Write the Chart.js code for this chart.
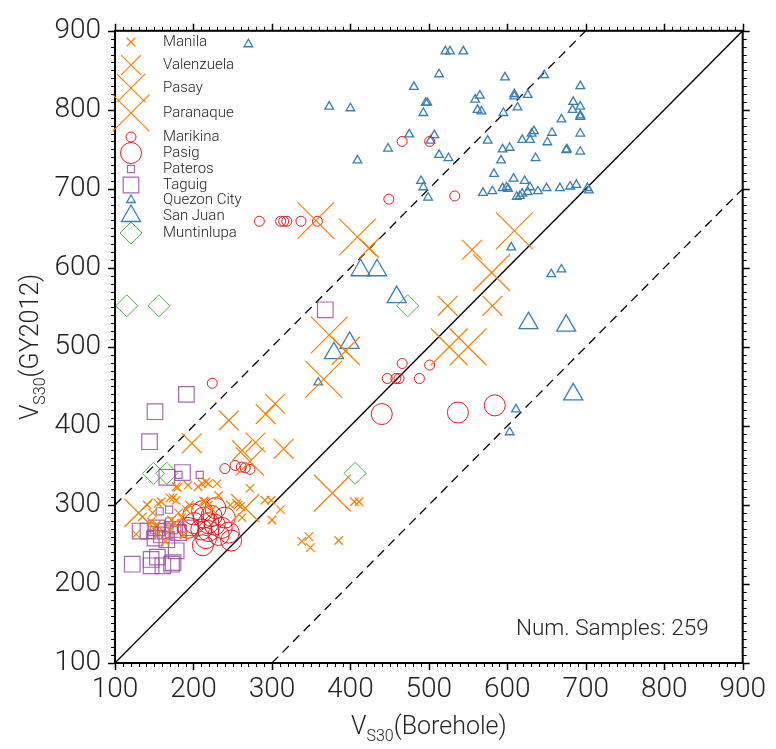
<!DOCTYPE html>
<html>
<head>
<meta charset="utf-8">
<script src="https://cdn.jsdelivr.net/npm/chart.js@4.4.1/dist/chart.umd.min.js"></script>
<style>
  html, body { margin: 0; padding: 0; background: #fff; }
  #wrap { width: 776px; height: 749px; }
</style>
</head>
<body>
<div id="wrap"><canvas id="c" width="776" height="749"></canvas></div>
<script>
// ---- data (V_S30 borehole, V_S30 GY2012) ----
const manila = [
  [178,323],[193,325],[206,323],[211,327],[216,329],[219,327],[230,327],[272,321],[291,306],[299,306],
  [255,302],[311,294],[300,281],[338,254],[347,260],[349,246],[385,255],[141,300],[155,302],[170,309],
  [178,306],[191,294],[213,305],[219,300],[224,294],[247,300],[260,298],[155,265],[164,254],[127,263],
  [185,284],[176,277],[180,322],[159,304],[174,309],[215,304],[257,300],[146,279],[153,275],[172,281],
  [181,290],[405,304],[411,304],[135,285],[148,290],[195,300],[232,312],[262,284],[170,268],[188,262]
];
const valenzuela = [[245,407],[292,415],[304,428],[198,378],[279,379],[315,371],[262,369],[555,623],[524,552],[581,552],[424,625]];
const pasay = [[266,296],[394,495],[272,355],[130,290]];
const paranaque = [[356,660],[409,639],[609,647],[580,594],[526,500],[550,500],[373,515],[366,459],[377,315]];
const marikina = [
  [284,659],[311,659],[315,659],[319,659],[337,659],[358,659],[466,760],[501,760],[449,687],[533,691],
  [224,454],[466,479],[501,477],[447,460],[458,460],[462,460],[488,460],[240,346],[253,350],[261,348],
  [266,347],[272,345]
];
const pasig = [
  [200,288],[211,292],[228,296],[201,277],[213,284],[219,277],[210,269],[219,267],[227,275],[236,271],
  [232,262],[245,265],[248,255],[212,249],[193,271],[223,286],[216,258],[240,284],[440,415],[537,417],[584,426]
];
const pateros = [[181,338],[208,338],[157,292],[169,294],[169,279],[150,268],[160,272],[165,262],[175,268],[145,262],[185,270]];
const taguig = [
  [368,547],[191,440],[151,418],[144,380],[166,335],[186,341],[132,267],[142,267],[153,271],[159,262],
  [164,267],[174,269],[181,265],[196,271],[151,258],[166,256],[122,225],[146,231],[154,234],[146,223],
  [161,223],[172,225],[178,242],[174,227]
];
const quezonCity = [
  [270,883],[521,874],[527,874],[544,874],[513,845],[481,829],[597,841],[647,844],[693,830],[496,809],
  [498,809],[493,796],[559,813],[565,818],[562,800],[567,798],[595,796],[609,817],[609,820],[626,819],
  [613,803],[684,810],[683,800],[693,804],[693,793],[693,791],[669,788],[475,769],[507,768],[502,761],
  [513,743],[525,739],[575,761],[594,750],[603,752],[592,736],[619,762],[629,762],[631,770],[634,773],
  [657,771],[651,759],[675,749],[676,750],[693,770],[693,747],[636,739],[490,710],[493,702],[499,689],
  [583,719],[569,695],[581,697],[594,701],[599,702],[601,700],[608,713],[622,710],[612,690],[616,691],
  [619,694],[626,696],[629,702],[639,697],[650,701],[667,701],[680,703],[688,705],[702,701],[704,698],
  [373,804],[400,802],[409,736],[448,751],[605,626],[656,592],[669,598],[611,421],[603,392],[359,455]
];
const sanJuan = [[413,597],[434,597],[459,563],[399,505],[379,492],[627,530],[675,527],[684,440]];
const muntinlupa = [[115,552],[156,552],[473,552],[149,340],[166,340],[406,340]];

const axisMin = 100, axisMax = 900;
const tickValues = [100, 200, 300, 400, 500, 600, 700, 800, 900];
const sampleCount = 259;

// ---- styling ----
const ORANGE = '#FF7F00', RED = '#E41A1C', PURPLE = 'rgba(152,78,163,0.85)', BLUE = '#377EB8', GREEN = '#4DAF4A';
const FONT = 'Roboto, "Liberation Sans", sans-serif';

const series = [
  { label: 'Manila',      data: manila,     style: 'crossRot', r: 6,    color: ORANGE, bw: 1.2 },
  { label: 'Valenzuela',  data: valenzuela, style: 'crossRot', r: 14,   color: ORANGE, bw: 1.2 },
  { label: 'Pasay',       data: pasay,      style: 'crossRot', r: 20,   color: ORANGE, bw: 1.2 },
  { label: 'Paranaque',   data: paranaque,  style: 'crossRot', r: 26,   color: ORANGE, bw: 1.2 },
  { label: 'Marikina',    data: marikina,   style: 'circle',   r: 5,    color: RED,    bw: 1 },
  { label: 'Pasig',       data: pasig,      style: 'circle',   r: 10.5, color: RED,    bw: 1 },
  { label: 'Pateros',     data: pateros,    style: 'rect',     r: 5,    color: PURPLE, bw: 1.2 },
  { label: 'Taguig',      data: taguig,     style: 'rect',     r: 11,   color: PURPLE, bw: 1.2 },
  { label: 'Quezon City', data: quezonCity, style: 'triangle', r: 5,    color: BLUE,   bw: 1.3 },
  { label: 'San Juan',    data: sanJuan,    style: 'triangle', r: 11,   color: BLUE,   bw: 1.3 },
  { label: 'Muntinlupa',  data: muntinlupa, style: 'rectRot',  r: 11,   color: GREEN,  bw: 1 }
];
// legend row centres (pixels) inside the plot
const legendRows = [42, 65, 88, 113, 137, 153, 169, 185, 200, 216, 233];

const datasets = series.map(s => ({
  label: s.label,
  data: s.data.map(p => ({ x: p[0], y: p[1] })),
  pointStyle: s.style,
  pointRadius: s.r,
  pointHoverRadius: s.r,
  pointBorderWidth: s.bw,
  pointBorderColor: s.color,
  borderColor: s.color,
  pointBackgroundColor: 'rgba(0,0,0,0)',
  backgroundColor: 'rgba(0,0,0,0)',
  showLine: false
}));

function refLine(pts, dash) {
  return {
    label: '_ref',
    data: pts.map(p => ({ x: p[0], y: p[1] })),
    showLine: true, pointRadius: 0, borderColor: '#000', borderWidth: 1.3,
    borderDash: dash, fill: false
  };
}
datasets.push(refLine([[100,100],[900,900]], []));
datasets.push(refLine([[100,300],[700,900]], [9, 6]));
datasets.push(refLine([[300,100],[900,700]], [9, 6]));

function drawSubTitle(ctx, main, sub, rest, x, y) {
  ctx.font = '300 25px ' + FONT;
  const w1 = ctx.measureText(main).width;
  const w3 = ctx.measureText(rest).width;
  ctx.font = '300 16px ' + FONT;
  const w2 = ctx.measureText(sub).width;
  const total = w1 + w2 + w3;
  let sx = x - total / 2;
  ctx.textAlign = 'left';
  ctx.textBaseline = 'alphabetic';
  ctx.font = '300 25px ' + FONT;
  ctx.fillText(main, sx, y);
  ctx.font = '300 16px ' + FONT;
  ctx.fillText(sub, sx + w1, y + 7);
  ctx.font = '300 25px ' + FONT;
  ctx.fillText(rest, sx + w1 + w2, y);
}

const framePlugin = {
  id: 'frame',
  afterDatasetsDraw(chart) {
    const { ctx, chartArea: a, scales } = chart;
    const xs = scales.x, ys = scales.y;
    ctx.save();
    // ticks, outward
    ctx.strokeStyle = '#000';
    for (let v = axisMin; v <= axisMax; v += 10) {
      const major = v % 100 === 0;
      const len = major ? 7 : 4;
      ctx.lineWidth = major ? 1.5 : 1;
      const px = Math.round(xs.getPixelForValue(v)) + 0.5;
      const py = Math.round(ys.getPixelForValue(v)) + 0.5;
      ctx.beginPath();
      ctx.moveTo(px, a.bottom); ctx.lineTo(px, a.bottom + len);
      ctx.moveTo(px, a.top); ctx.lineTo(px, a.top - len);
      ctx.moveTo(a.left, py); ctx.lineTo(a.left - len, py);
      ctx.moveTo(a.right, py); ctx.lineTo(a.right + len, py);
      ctx.stroke();
    }
    // box
    ctx.lineWidth = 2;
    ctx.strokeRect(a.left, a.top, a.right - a.left, a.bottom - a.top);

    // legend
    const H = Chart.helpers;
    series.forEach((s, i) => {
      const cy = legendRows[i];
      ctx.strokeStyle = s.color;
      ctx.fillStyle = 'rgba(0,0,0,0)';
      ctx.lineWidth = s.bw;
      if (H && H.drawPoint) {
        H.drawPoint(ctx, { pointStyle: s.style, radius: s.r, borderWidth: s.bw, rotation: 0 }, a.left + 16, cy);
      }
      ctx.fillStyle = '#222';
      ctx.font = '300 15px ' + FONT;
      ctx.textAlign = 'left';
      ctx.textBaseline = 'middle';
      ctx.fillText(s.label, a.left + 48, cy);
    });

    // sample count
    ctx.fillStyle = '#222';
    ctx.font = '300 22.5px ' + FONT;
    ctx.textAlign = 'right';
    ctx.textBaseline = 'alphabetic';
    ctx.fillText('Num. Samples: ' + sampleCount, a.right - 34, a.bottom - 28);

    // axis titles
    ctx.fillStyle = '#222';
    drawSubTitle(ctx, 'V', 'S30', '(Borehole)', (a.left + a.right) / 2, 734);
    ctx.translate(38, (a.top + a.bottom) / 2);
    ctx.rotate(-Math.PI / 2);
    drawSubTitle(ctx, 'V', 'S30', '(GY2012)', 0, 0);
    ctx.restore();
  }
};

const tickFont = { family: FONT, size: 28, weight: '300' };

new Chart(document.getElementById('c'), {
  type: 'scatter',
  data: { datasets },
  options: {
    responsive: false,
    animation: false,
    layout: { padding: { top: 25, right: 31, left: 0, bottom: 0 } },
    plugins: { legend: { display: false }, tooltip: { enabled: false } },
    scales: {
      x: {
        type: 'linear', min: axisMin, max: axisMax,
        afterBuildTicks: s => { s.ticks = tickValues.map(v => ({ value: v })); },
        afterFit: s => { s.height = 86; },
        grid: { display: false, drawTicks: false },
        border: { display: false },
        ticks: { font: tickFont, color: '#222', padding: 10, maxRotation: 0 }
      },
      y: {
        type: 'linear', min: axisMin, max: axisMax,
        afterBuildTicks: s => { s.ticks = tickValues.map(v => ({ value: v })); },
        afterFit: s => { s.width = 115; },
        grid: { display: false, drawTicks: false },
        border: { display: false },
        ticks: { font: tickFont, color: '#222', padding: 14 }
      }
    }
  },
  plugins: [framePlugin]
});
</script>
</body>
</html>
